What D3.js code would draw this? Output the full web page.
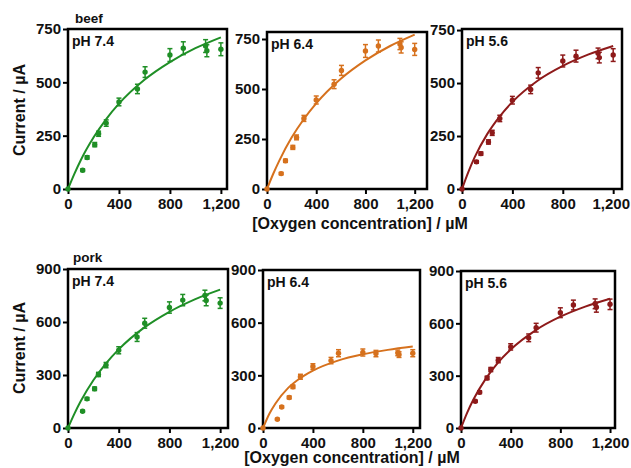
<!DOCTYPE html>
<html>
<head>
<meta charset="utf-8">
<script src="https://cdn.jsdelivr.net/npm/d3@7"></script>
<style>
  html, body { margin: 0; padding: 0; background: #fff; }
  svg text { font-family: "Liberation Sans", Arial, sans-serif; font-weight: bold; fill: #111; }
</style>
</head>
<body>
<svg id="chart" width="631" height="468"></svg>
<script>
// ---- Data ----
const oxygenConc = [0, 115, 150, 210, 240, 300, 400, 545, 605, 800, 905, 1080, 1090, 1200];

const beef74 = [0, 88, 148, 208, 259, 309, 408, 469, 548, 628, 660, 670, 648, 655];
const beef64 = [0, 77, 141, 208, 258, 353, 445, 524, 593, 690, 715, 725, 708, 698];
const beef56 = [0, 128, 167, 222, 265, 333, 419, 470, 548, 604, 627, 640, 620, 632];
const pork74 = [0, 95, 165, 222, 303, 356, 440, 515, 593, 682, 724, 750, 722, 707];
const pork64 = [0, 50, 120, 174, 235, 292, 350, 384, 426, 430, 424, 428, 418, 426];
const pork56 = [0, 153, 205, 287, 335, 389, 465, 517, 575, 661, 705, 712, 692, 709];

const beef74Err = [0, 6, 8, 10, 12, 15, 18, 22, 25, 30, 30, 30, 28, 30];
const beef64Err = [0, 6, 8, 10, 12, 15, 20, 22, 25, 32, 30, 28, 28, 30];
const beef56Err = [0, 6, 8, 10, 12, 15, 18, 20, 25, 28, 28, 25, 25, 30];
const pork74Err = [0, 6, 8, 10, 12, 15, 20, 25, 28, 32, 32, 30, 30, 30];
const pork64Err = [0, 5, 6, 8, 10, 14, 16, 18, 20, 20, 18, 16, 16, 20];
const pork56Err = [0, 6, 8, 10, 12, 15, 18, 22, 25, 28, 28, 28, 28, 30];

// fitted curves
const fitX = [0, 50, 100, 200, 300, 400, 600, 800, 1000, 1200];
const beef74Fit = [0, 71, 135, 241, 328, 400, 512, 595, 660, 711];
const beef64Fit = [0, 75, 142, 257, 350, 428, 551, 643, 715, 772];
const beef56Fit = [0, 80, 149, 259, 343, 411, 511, 581, 634, 675];
const pork74Fit = [0, 80, 151, 270, 366, 445, 568, 658, 728, 783];
const pork64Fit = [0, 80, 140, 227, 285, 327, 384, 420, 445, 464];
const pork56Fit = [0, 88, 163, 283, 376, 450, 560, 638, 696, 741];

const xTicks = [0, 400, 800, 1200];
const beefYTicks = [0, 250, 500, 750];
const porkYTicks = [0, 300, 600, 900];
const phLabels = ["pH 7.4", "pH 6.4", "pH 5.6"];
const meatLabels = ["beef", "pork"];
const yTitle = "Current / \u00B5A";
const xTitle = "[Oxygen concentration] / \u00B5M";

// ---- Layout / style ----
const green = "#1f8f26", orange = "#d6711d", red = "#8e1a1a";
const panels = [
  {y: beef74, e: beef74Err, f: beef74Fit, c: green,  ph: phLabels[0], L: 68,  R: 227, T: 29,  B: 189, xMax: 1248, yMax: 750, yt: beefYTicks},
  {y: beef64, e: beef64Err, f: beef64Fit, c: orange, ph: phLabels[1], L: 267, R: 427, T: 32,  B: 189, xMax: 1300, yMax: 785, yt: beefYTicks},
  {y: beef56, e: beef56Err, f: beef56Fit, c: red,    ph: phLabels[2], L: 462, R: 622, T: 29,  B: 189, xMax: 1270, yMax: 755, yt: beefYTicks},
  {y: pork74, e: pork74Err, f: pork74Fit, c: green,  ph: phLabels[0], L: 68,  R: 228, T: 269, B: 428, xMax: 1262, yMax: 900, yt: porkYTicks},
  {y: pork64, e: pork64Err, f: pork64Fit, c: orange, ph: phLabels[1], L: 263, R: 420, T: 270, B: 428, xMax: 1258, yMax: 900, yt: porkYTicks},
  {y: pork56, e: pork56Err, f: pork56Fit, c: red,    ph: phLabels[2], L: 461, R: 615, T: 271, B: 428, xMax: 1240, yMax: 900, yt: porkYTicks}
];

const svg = d3.select("#chart");
const fmt = d3.format(",");

panels.forEach(p => {
  const x = d3.scaleLinear().domain([0, p.xMax]).range([p.L, p.R]);
  const y = d3.scaleLinear().domain([0, p.yMax]).range([p.B, p.T]);
  const g = svg.append("g");

  // axes ticks
  const xa = g.append("g").attr("transform", `translate(0,${p.B})`)
    .call(d3.axisBottom(x).tickValues(xTicks).tickFormat(fmt).tickSize(5).tickPadding(4));
  const ya = g.append("g").attr("transform", `translate(${p.L},0)`)
    .call(d3.axisLeft(y).tickValues(p.yt).tickFormat(fmt).tickSize(5).tickPadding(2));
  [xa, ya].forEach(a => {
    a.select(".domain").remove();
    a.selectAll(".tick line").attr("stroke", "#000").attr("stroke-width", 2);
    a.selectAll(".tick text").style("font-size", "15px").attr("fill", "#111");
  });
  // keep tick labels inside the page
  xa.selectAll(".tick text").each(function () {
    const bb = this.getBBox();
    const ctm = this.getCTM();
    const right = ctm.e + bb.x + bb.width;
    if (right > 630) d3.select(this).attr("dx", 630 - right);
  });

  // frame
  g.append("rect").attr("x", p.L).attr("y", p.T)
    .attr("width", p.R - p.L).attr("height", p.B - p.T)
    .attr("fill", "none").attr("stroke", "#000").attr("stroke-width", 2.5);

  // fit curve
  const line = d3.line().x((d, i) => x(fitX[i])).y(d => y(d)).curve(d3.curveMonotoneX);
  g.append("path").datum(p.f).attr("d", line)
    .attr("fill", "none").attr("stroke", p.c).attr("stroke-width", 2);

  // error bars
  const pts = oxygenConc.map((xc, i) => ({x: xc, y: p.y[i], e: p.e[i]}));
  const eb = g.append("g").attr("stroke", p.c).attr("stroke-width", 1.5);
  pts.filter(d => d.e > 0).forEach(d => {
    const cx = x(d.x), y1 = y(d.y + d.e), y2 = y(d.y - d.e);
    eb.append("line").attr("x1", cx).attr("x2", cx).attr("y1", y1).attr("y2", y2);
    eb.append("line").attr("x1", cx - 2.5).attr("x2", cx + 2.5).attr("y1", y1).attr("y2", y1);
    eb.append("line").attr("x1", cx - 2.5).attr("x2", cx + 2.5).attr("y1", y2).attr("y2", y2);
  });

  // points
  g.selectAll("circle.pt").data(pts).enter().append("circle")
    .attr("cx", d => x(d.x)).attr("cy", d => y(d.y)).attr("r", 2.7)
    .attr("fill", p.c);

  // pH label
  g.append("text").attr("x", p.L + 4).attr("y", p.T + 17)
    .style("font-size", "14px").text(p.ph);
});

// meat labels
svg.append("text").attr("x", 75).attr("y", 23).style("font-size", "13.5px").text(meatLabels[0]);
svg.append("text").attr("x", 73).attr("y", 262).style("font-size", "13.5px").text(meatLabels[1]);

// y titles
[[110], [348]].forEach(([cy]) => {
  svg.append("text").attr("transform", `translate(25,${cy}) rotate(-90)`)
    .attr("text-anchor", "middle").style("font-size", "16px").text(yTitle);
});
// x titles
svg.append("text").attr("x", 360).attr("y", 229).attr("text-anchor", "middle")
  .style("font-size", "16px").text(xTitle);
svg.append("text").attr("x", 352).attr("y", 463).attr("text-anchor", "middle")
  .style("font-size", "16px").text(xTitle);
</script>
</body>
</html>
